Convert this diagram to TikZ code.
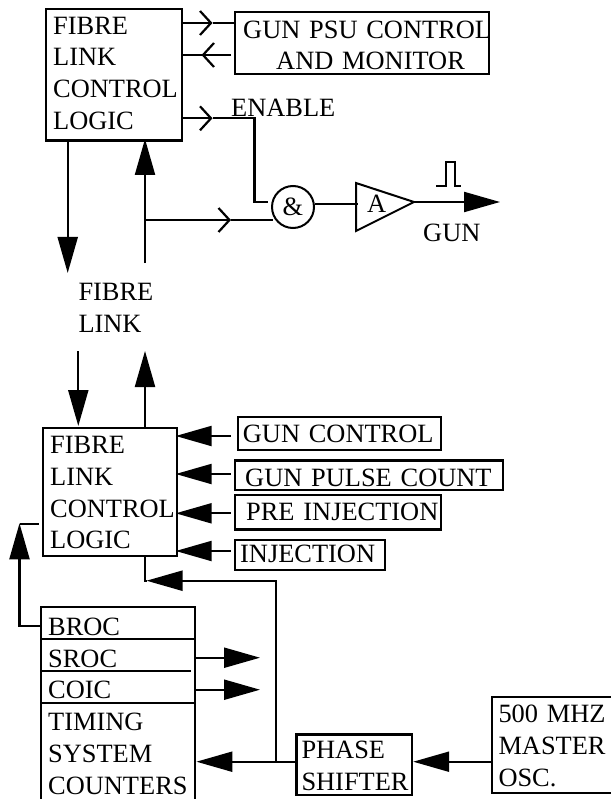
\documentclass[tikz,border=0pt]{standalone}
\usepackage{fontspec}
\setmainfont{Liberation Serif}
\usetikzlibrary{arrows.meta}
\tikzset{
  x=1pt,y=-1pt,
  every node/.style={font=\fontsize{26.4}{31.8}\selectfont,text=black},
  box/.style={draw,line width=2.4pt,anchor=north west,inner sep=0pt,align=left},
  lbl/.style={anchor=base west,inner sep=0pt},
  wire/.style={line width=2.2pt,line cap=butt,line join=miter},
  solid arrow/.style={wire,-{Triangle[length=36pt,width=20pt]}},
  open arrow/.style={wire,-{Straight Barb[length=11pt,width=24pt,line width=2.2pt]}}
}
\newcommand{\st}[1]{\rule{0pt}{#1pt}}
\newcommand{\sd}[1]{\rule[-#1pt]{0pt}{#1pt}}
\newcommand{\ind}[1]{\hspace*{#1pt}}
\begin{document}
\begin{tikzpicture}
\useasboundingbox (0,0) rectangle (610,799);
% upper logic block and PSU block
\node[box,text width=136pt] (flcA) at (45,8) {\st{25}\ind{7}FIBRE\\\ind{7}LINK\\\ind{7}CONTROL\\\ind{7}LOGIC\sd{11}};
\node[box,text width=254pt] (psu) at (234,11) {\st{26}\ind{8}\mbox{GUN PSU CONTROL}\\\ind{41}\mbox{AND MONITOR}\sd{4}};
% gate, amplifier
\node[draw,circle,line width=2pt,minimum size=42pt,inner sep=0pt] (gate) at (293,207) {\&\hspace{8pt}};
\coordinate (ampNW) at (356,183);
\coordinate (ampSW) at (356,231);
\coordinate (ampTip) at (414,202);
\draw[wire,line width=2pt] (ampNW) -- (ampTip) -- (ampSW) -- cycle;
\node[lbl] (ampA) at (367,213) {A};
% labels
\node[lbl] (enable) at (231,116.7) {ENABLE};
\node[lbl] (gunlbl) at (423,241.7) {GUN};
\node[lbl] (fib) at (78.3,300) {FIBRE};
\node[lbl] (lnk) at (78.3,332.7) {LINK};
% open-arrow connectors
\coordinate (c1) at (212.5,23);
\draw[open arrow] (flcA.east |- c1) -- (c1);
\draw[wire] (c1) -- (psu.west |- c1);
\coordinate (c2) at (201.5,55);
\coordinate (c2r) at (231,55);
\draw[open arrow] (c2r) -- (c2);
\draw[wire] (c2) -- (flcA.east |- c2);
\coordinate (c3) at (212.5,118.3);
\coordinate (c3b) at (254.5,118.3);
\coordinate (c3c) at (254.5,202);
\coordinate (c3d) at (268,202);
\draw[open arrow] (flcA.east |- c3) -- (c3);
\draw[wire] (c3) -- (c3b) -- (c3c) -- (c3d);
% verticals
\coordinate (downEnd) at (67.7,273);
\draw[solid arrow] (flcA.south -| downEnd) -- (downEnd);
\coordinate (upStart) at (145,263);
\coordinate (upTip) at (145,139);
\draw[solid arrow] (upStart) -- (upTip);
\coordinate (br) at (145,220);
\coordinate (br2) at (231,220);
\coordinate (br3) at (273,220);
\draw[open arrow] (br) -- (br2);
\draw[wire] (br2) -- (br3);
% gate -> amp -> output
\draw[wire] (gate.east |- 0,204) -- (358,204);
\coordinate (outEnd) at (500,202);
\draw[solid arrow] (ampTip) -- (outEnd);
\coordinate (p1) at (436,186);
\coordinate (p2) at (445.7,186);
\coordinate (p3) at (445.7,162);
\coordinate (p4) at (455,162);
\coordinate (p5) at (455,186);
\coordinate (p6) at (461,186);
\draw[wire,line width=2pt] (p1) -- (p2) -- (p3) -- (p4) -- (p5) -- (p6);
% lower logic block
\node[box,text width=134pt] (flcB) at (42,427) {\st{25.3}\ind{7}FIBRE\\\ind{7}LINK\\\ind{7}CONTROL\\\ind{7}LOGIC\sd{7}};
\coordinate (fibDownS) at (78.3,351);
\coordinate (fibDownE) at (78.3,426);
\draw[solid arrow] (fibDownS) -- (fibDownE);
\coordinate (fibUpE) at (145,351);
\draw[solid arrow] (flcB.north -| fibUpE) -- (fibUpE);
% inputs
\node[box,text width=203pt] (gc) at (236.7,416) {\st{25.7}\ind{5}\mbox{GUN CONTROL}\sd{7.3}};
\node[box,text width=267.5pt] (gpc) at (234,459.3) {\st{25.7}\ind{10}\mbox{GUN PULSE COUNT}\sd{3.7}};
\node[box,text width=206pt] (pi) at (234,494) {\st{25}\ind{11}\mbox{PRE INJECTION}\sd{9.3}};
\node[box,text width=150pt] (inj) at (234,539) {\st{22.7}\ind{5}INJECTION\sd{7.3}};
\coordinate (ga) at (175.7,436);
\coordinate (gb) at (175.7,474);
\coordinate (gd) at (175.7,513.3);
\coordinate (ge) at (175.7,551);
\coordinate (xx) at (230.7,0);
\draw[solid arrow] (ga -| xx) -- (ga);
\draw[solid arrow] (gb -| xx) -- (gb);
\draw[solid arrow] (gd -| xx) -- (gd);
\draw[solid arrow] (ge -| xx) -- (ge);
% timing block
\node[box,text width=154pt] (tim) at (40,606) {\st{28}\ind{7}BROC\\\ind{7}SROC\\\ind{7}COIC\\\ind{7}TIMING\\\ind{7}SYSTEM\\\ind{7}COUNTERS\sd{9}};
\draw[wire] (tim.west |- 0,639.3) -- (tim.east |- 0,639.3);
\draw[wire] (tim.west |- 0,671) -- (191,671);
\draw[wire] (tim.west |- 0,703.3) -- (tim.east |- 0,703.3);
\coordinate (s1) at (260,657.7);
\coordinate (s2) at (260,689.7);
\draw[solid arrow] (tim.east |- s1) -- (s1);
\draw[solid arrow] (tim.east |- s2) -- (s2);
% BROC to lower logic
\coordinate (l1) at (19.5,626.8);
\coordinate (l2) at (19.5,523.3);
\coordinate (l3) at (39,524.3);
\draw[solid arrow] (l1) -- (l2);
\draw[wire] (l2 |- l3) -- (l3);
\draw[wire] (tim.west |- 0,625.7) -- (l1 |- 0,625.7);
% phase shifter and oscillator
\node[box,text width=115.5pt] (ps) at (295.3,733.3) {\st{24}\ind{5}PHASE\\\ind{5}SHIFTER\sd{4.4}};
\node[box,text width=125pt] (osc) at (490.7,696) {\st{25.7}\ind{6.6}500 MHZ\\\ind{6.6}MASTER\\\ind{6.6}OSC.\sd{6.4}};
\coordinate (m) at (0,761.7);
\draw[solid arrow] (osc.west |- m) -- (ps.east |- m);
\draw[solid arrow] (ps.west |- m) -- (tim.east |- m);
\coordinate (j) at (276,761.7);
\coordinate (jt) at (276,580.7);
\coordinate (k) at (145,580.7);
\coordinate (jtip) at (146.5,580.7);
\draw[solid arrow] (j) -- (jt) -- (jtip);
\draw[wire] (flcB.south -| k) -- (k) -- (jtip);
\end{tikzpicture}
\end{document}
